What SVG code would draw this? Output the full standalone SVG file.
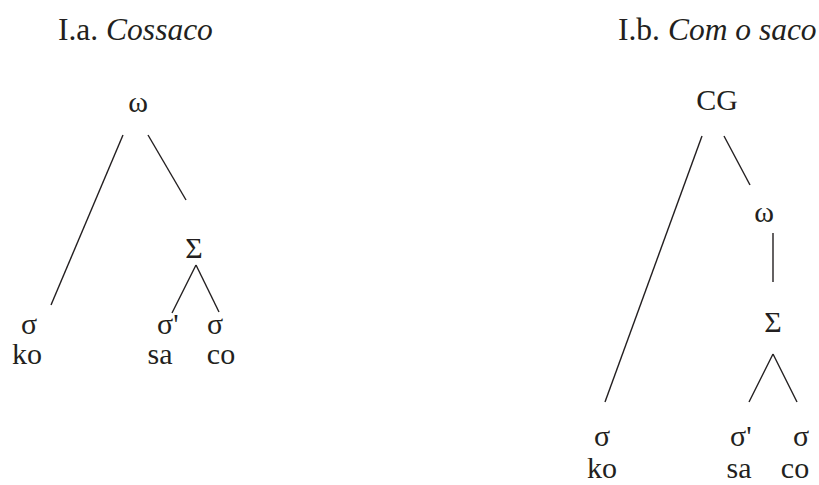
<svg xmlns="http://www.w3.org/2000/svg" width="819" height="485" viewBox="0 0 819 485">
<style>
text{font-family:"Liberation Serif","Times New Roman",serif;font-size:30px;fill:#231f20}
.t{font-size:31.5px}
.m{text-anchor:middle}
.i{font-style:italic}
line{stroke:#231f20;stroke-width:1.4;fill:none}
</style>
<rect width="819" height="485" fill="#fff"/>
<g id="title-a"><text class="t" x="58" y="40">I.a. <tspan class="i">Cossaco</tspan></text></g>
<g id="title-b"><text class="t" x="618" y="40">I.b. <tspan class="i">Com o saco</tspan></text></g>
<g id="a-omega"><text class="m" x="138" y="112">ω</text></g>
<g id="a-Sigma"><text class="m" x="194" y="258">Σ</text></g>
<g id="a-s1"><text class="m" x="29" y="334">σ</text><text class="m" x="27" y="364">ko</text></g>
<g id="a-s2"><text x="157" y="334">σ'</text><text class="m" x="160" y="364">sa</text></g>
<g id="a-s3"><text class="m" x="215" y="334">σ</text><text class="m" x="221" y="364">co</text></g>
<g id="b-CG"><text class="m" x="717" y="110">CG</text></g>
<g id="b-omega"><text class="m" x="764" y="222">ω</text></g>
<g id="b-Sigma"><text class="m" x="773" y="332">Σ</text></g>
<g id="b-s1"><text class="m" x="602" y="446">σ</text><text class="m" x="602" y="478">ko</text></g>
<g id="b-s2"><text x="730" y="446">σ'</text><text class="m" x="739" y="478">sa</text></g>
<g id="b-s3"><text class="m" x="801" y="446">σ</text><text class="m" x="795" y="478">co</text></g>
<g id="connectors">
<line x1="123" y1="135" x2="51" y2="305"/>
<line x1="148" y1="135" x2="186" y2="200"/>
<line x1="196" y1="265" x2="172" y2="313"/>
<line x1="196" y1="265" x2="219" y2="312"/>
<line x1="702" y1="136" x2="605" y2="402"/>
<line x1="724" y1="136" x2="750" y2="185"/>
<line x1="773" y1="233" x2="773" y2="282"/>
<line x1="773" y1="354" x2="749" y2="402"/>
<line x1="773" y1="354" x2="797" y2="402"/>
</g>
</svg>
